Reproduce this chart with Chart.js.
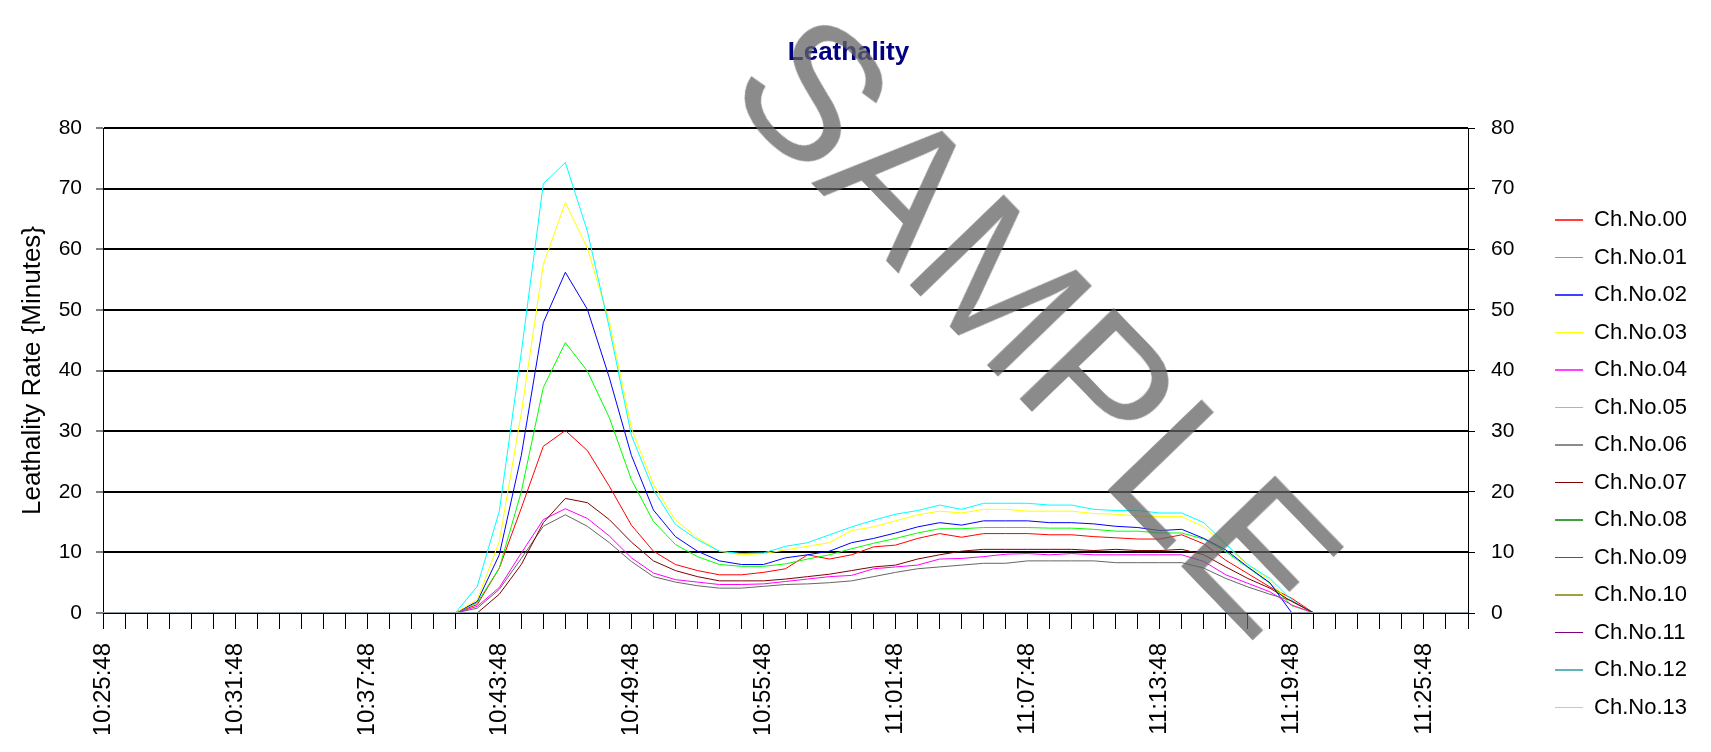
<!DOCTYPE html>
<html>
<head>
<meta charset="utf-8">
<script src="https://cdn.jsdelivr.net/npm/chart.js@4.4.0/dist/chart.umd.min.js"></script>
<style>
  html, body { margin: 0; padding: 0; background: #fff; }
  #wrap { position: relative; width: 1711px; height: 752px; overflow: hidden; }
  #c { position: absolute; left: 0; top: 0; }
  #wm { position: absolute; left: 1038px; top: 323px; transform: translate(-50%, -50%) rotate(46deg);
        font-family: "Liberation Sans", Arial, sans-serif; font-size: 190px; line-height: 1;
        color: rgba(100,100,100,0.75); white-space: nowrap; pointer-events: none; }
</style>
</head>
<body>
<div id="wrap">
  <canvas id="c" width="1711" height="752"></canvas>
  <div id="wm">SAMPLE</div>
</div>
<script>
const timeLabels = ["10:25:48","10:26:48","10:27:48","10:28:48","10:29:48","10:30:48","10:31:48","10:32:48","10:33:48","10:34:48",
  "10:35:48","10:36:48","10:37:48","10:38:48","10:39:48","10:40:48","10:41:48","10:42:48","10:43:48","10:44:48",
  "10:45:48","10:46:48","10:47:48","10:48:48","10:49:48","10:50:48","10:51:48","10:52:48","10:53:48","10:54:48",
  "10:55:48","10:56:48","10:57:48","10:58:48","10:59:48","11:00:48","11:01:48","11:02:48","11:03:48","11:04:48",
  "11:05:48","11:06:48","11:07:48","11:08:48","11:09:48","11:10:48","11:11:48","11:12:48","11:13:48","11:14:48",
  "11:15:48","11:16:48","11:17:48","11:18:48","11:19:48","11:20:48","11:21:48","11:22:48","11:23:48","11:24:48",
  "11:25:48","11:26:48","11:27:48"];

const seriesNames = ["Ch.No.00","Ch.No.01","Ch.No.02","Ch.No.03","Ch.No.04","Ch.No.05","Ch.No.06",
  "Ch.No.07","Ch.No.08","Ch.No.09","Ch.No.10","Ch.No.11","Ch.No.12","Ch.No.13"];

const seriesColors = ["#FF0000","#00FF00","#0000FF","#FFFF00","#FF00FF","#00FFFF","#666666",
  "#800000","#008000","#4B4BB4","#808000","#800080","#2E9A9A","#C8C8C8"];

const yTicks = [0, 10, 20, 30, 40, 50, 60, 70, 80];

const ch00 = [0,0,0,0,0,0,0,0,0,0,0,0,0,0,0,0, 0,1.4,7.4,17.3,27.5,30.1,26.8,20.9,14.5,10.2,8.0,7.0,6.3,6.3,6.7,7.3,9.6,8.9,9.6,10.9,11.2,12.3,13.1,12.5,13.1,13.1,13.1,12.9,12.9,12.6,12.4,12.2,12.2,12.9,11.4,8.7,6.5,4.3,2.4, 0,0,0,0,0,0,0,0];
const ch01 = [0,0,0,0,0,0,0,0,0,0,0,0,0,0,0,0, 0,1.7,7.4,20.0,37.2,44.6,39.9,32.2,22.0,15.1,11.3,9.3,8.0,7.7,7.7,8.1,8.9,9.6,10.6,11.5,12.3,13.2,13.9,13.9,14.1,14.1,14.1,14.0,14.0,13.8,13.5,13.5,13.2,13.2,12.2,10.1,7.5,4.9,1.2, 0,0,0,0,0,0,0,0];
const ch02 = [0,0,0,0,0,0,0,0,0,0,0,0,0,0,0,0, 0,1.9,9.6,26.0,47.9,56.2,50.1,38.8,26.0,17.0,12.6,10.2,8.6,8.0,8.0,9.1,9.6,10.2,11.6,12.3,13.2,14.2,14.9,14.5,15.2,15.2,15.2,14.9,14.9,14.7,14.3,14.1,13.6,13.8,12.3,10.4,7.6,5.0,0, 0,0,0,0,0,0,0,0];
const ch03 = [0,0,0,0,0,0,0,0,0,0,0,0,0,0,0,0, 0,2.2,11.8,33.0,57.5,67.7,60.2,48.0,30.5,21.2,15.3,12.4,10.2,9.6,9.8,10.4,11.0,11.6,13.6,14.2,15.2,16.2,16.8,16.5,17.1,17.1,16.8,16.8,16.8,16.4,16.3,16.0,15.9,15.9,14.2,11.2,7.9,5.4,1.3, 0,0,0,0,0,0,0,0];
const ch04 = [0,0,0,0,0,0,0,0,0,0,0,0,0,0,0,0, 0,1.1,4.2,9.9,15.4,17.2,15.6,12.7,9.1,6.6,5.5,5.1,4.7,4.7,4.8,5.2,5.6,6.0,6.2,7.3,7.6,7.9,8.9,9.0,9.3,9.7,9.8,9.6,9.8,9.6,9.6,9.6,9.6,9.6,8.5,6.3,4.9,3.5,1.3, 0,0,0,0,0,0,0,0];
const ch05 = [0,0,0,0,0,0,0,0,0,0,0,0,0,0,0,0, 0,4.4,16.8,43.0,70.8,74.3,63.0,47.0,29.3,20.3,14.6,12.1,10.2,9.8,9.9,11.0,11.6,12.9,14.2,15.3,16.3,16.9,17.8,17.1,18.1,18.1,18.1,17.8,17.8,17.1,16.9,16.9,16.5,16.5,14.9,11.4,8.0,5.7,2.1, 0,0,0,0,0,0,0,0];
const ch06 = [0,0,0,0,0,0,0,0,0,0,0,0,0,0,0,0, 0,0.8,3.9,9.0,14.3,16.2,14.3,11.6,8.5,6.0,5.1,4.5,4.1,4.1,4.4,4.7,4.8,5.0,5.3,6.0,6.7,7.3,7.6,7.9,8.2,8.2,8.6,8.6,8.6,8.6,8.3,8.3,8.3,8.3,7.4,5.7,4.3,3.1,2.0, 0,0,0,0,0,0,0,0];
const ch07 = [0,0,0,0,0,0,0,0,0,0,0,0,0,0,0,0, 0,0,3.1,8.0,14.9,18.9,18.2,15.4,11.7,8.6,7.0,6.0,5.3,5.3,5.3,5.6,6.0,6.4,7.0,7.6,7.9,8.9,9.6,10.2,10.5,10.5,10.5,10.5,10.5,10.3,10.5,10.3,10.3,10.5,9.6,7.6,5.7,4.1,1.9, 0,0,0,0,0,0,0,0];
const ch08 = [0,0,0,0,0,0,0,0,0,0,0,0,0,0,0,0,0,0,0,0,0,0,0,0,0,0,0,0,0,0,0,0,0,0,0,0,0,0,0,0,0,0,0,0,0,0,0,0,0,0,0,0,0,0,0,0,0,0,0,0,0,0,0];
const ch09 = [0,0,0,0,0,0,0,0,0,0,0,0,0,0,0,0,0,0,0,0,0,0,0,0,0,0,0,0,0,0,0,0,0,0,0,0,0,0,0,0,0,0,0,0,0,0,0,0,0,0,0,0,0,0,0,0,0,0,0,0,0,0,0];
const ch10 = [0,0,0,0,0,0,0,0,0,0,0,0,0,0,0,0,0,0,0,0,0,0,0,0,0,0,0,0,0,0,0,0,0,0,0,0,0,0,0,0,0,0,0,0,0,0,0,0,0,0,0,0,0,0,0,0,0,0,0,0,0,0,0];
const ch11 = [0,0,0,0,0,0,0,0,0,0,0,0,0,0,0,0,0,0,0,0,0,0,0,0,0,0,0,0,0,0,0,0,0,0,0,0,0,0,0,0,0,0,0,0,0,0,0,0,0,0,0,0,0,0,0,0,0,0,0,0,0,0,0];
const ch12 = [0,0,0,0,0,0,0,0,0,0,0,0,0,0,0,0,0,0,0,0,0,0,0,0,0,0,0,0,0,0,0,0,0,0,0,0,0,0,0,0,0,0,0,0,0,0,0,0,0,0,0,0,0,0,0,0,0,0,0,0,0,0,0];
const ch13 = [0,0,0,0,0,0,0,0,0,0,0,0,0,0,0,0,0,0,0,0,0,0,0,0,0,0,0,0,0,0,0,0,0,0,0,0,0,0,0,0,0,0,0,0,0,0,0,0,0,0,0,0,0,0,0,0,0,0,0,0,0,0,0];

const seriesValues = [ch00, ch01, ch02, ch03, ch04, ch05, ch06, ch07, ch08, ch09, ch10, ch11, ch12, ch13];

const W = 1711, PLOT_LEFT = 103, PLOT_RIGHT = 1468, PLOT_BOTTOM = 613;
const PAD_RIGHT = 14, PAD_BOTTOM = 18;
const FONT = '"Liberation Sans", Arial, sans-serif';

const datasets = seriesValues.map((vals, i) => ({
  label: seriesNames[i],
  data: vals,
  borderColor: seriesColors[i],
  backgroundColor: seriesColors[i],
  borderWidth: 1,
  pointRadius: 0,
  pointHoverRadius: 0,
  tension: 0,
  fill: false,
  order: -i
}));

new Chart(document.getElementById('c'), {
  type: 'line',
  data: { labels: timeLabels, datasets },
  options: {
    responsive: false,
    devicePixelRatio: 1,
    animation: false,
    events: [],
    layout: { padding: { left: 0, right: PAD_RIGHT, top: 0, bottom: PAD_BOTTOM } },
    plugins: {
      tooltip: { enabled: false },
      title: {
        display: true,
        text: 'Leathality',
        color: '#000080',
        font: { family: FONT, size: 26, weight: 'bold', lineHeight: 1.2 },
        padding: { top: 37.4, bottom: 59.4 }
      },
      legend: {
        display: true,
        position: 'right',
        align: 'end',
        labels: {
          color: '#000',
          font: { family: FONT, size: 22 },
          boxWidth: 28,
          boxHeight: 0,
          padding: 15.5,
          sort: (a, b) => a.datasetIndex - b.datasetIndex
        }
      }
    },
    scales: {
      x: {
        type: 'category',
        offset: false,
        grid: { display: true, drawOnChartArea: false, drawTicks: true, tickLength: 16, tickColor: '#000', tickWidth: 1, offset: false },
        border: { display: true, color: '#000', width: 1 },
        ticks: {
          autoSkip: false, minRotation: 90, maxRotation: 90, padding: 14, color: '#000',
          font: { family: FONT, size: 24 },
          callback: (v, i) => (i % 6 === 0 ? timeLabels[i] : '')
        },
        afterFit: s => { s.height = 752 - PAD_BOTTOM - PLOT_BOTTOM; }
      },
      y: {
        position: 'left',
        min: 0, max: 80,
        afterBuildTicks: s => { s.ticks = yTicks.map(v => ({ value: v })); },
        grid: { color: '#000', lineWidth: 2, drawTicks: true, tickLength: 7, tickColor: '#000', tickWidth: 1 },
        border: { display: true, color: '#000', width: 1 },
        ticks: { padding: 14, color: '#000', font: { family: FONT, size: 21 } },
        title: {
          display: true, text: 'Leathality Rate {Minutes}', color: '#000',
          font: { family: FONT, size: 26, lineHeight: 1.2 },
          padding: { top: 17.4, bottom: 0 }
        },
        afterFit: s => { s.width = PLOT_LEFT; }
      },
      y2: {
        position: 'right',
        min: 0, max: 80,
        afterBuildTicks: s => { s.ticks = yTicks.map(v => ({ value: v })); },
        grid: { drawOnChartArea: false, drawTicks: true, tickLength: 7, tickColor: '#000', tickWidth: 1 },
        border: { display: true, color: '#000', width: 1 },
        ticks: { padding: 16, color: '#000', font: { family: FONT, size: 21 } },
        afterFit: s => {
          const lw = s.chart.legend ? s.chart.legend.width : 0;
          s.width = W - PAD_RIGHT - lw - PLOT_RIGHT;
        }
      }
    }
  }
});
</script>
</body>
</html>
